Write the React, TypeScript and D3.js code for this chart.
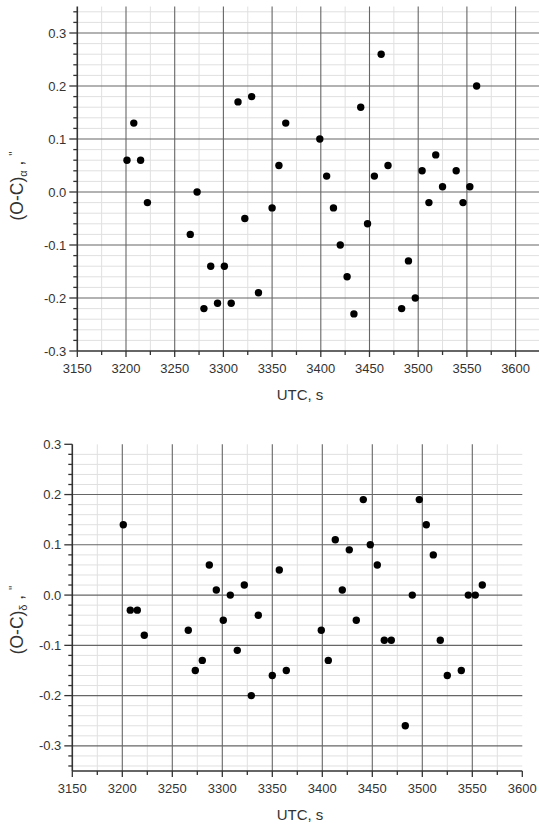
import React from 'react';
import * as d3 from 'd3';

// Observation epochs (UTC, seconds) shared by both residual series
const utcSeconds = [
  3201, 3208, 3215, 3222, 3266, 3273, 3280, 3287, 3294, 3301,
  3308, 3315, 3322, 3329, 3336, 3350, 3357, 3364, 3399, 3406,
  3413, 3420, 3427, 3434, 3441, 3448, 3455, 3462, 3469, 3483,
  3490, 3497, 3504, 3511, 3518, 3525, 3539, 3546, 3553, 3560,
];

// Residuals in right ascension, arcsec
const ocAlpha = [
  0.06, 0.13, 0.06, -0.02, -0.08, 0.0, -0.22, -0.14, -0.21, -0.14,
  -0.21, 0.17, -0.05, 0.18, -0.19, -0.03, 0.05, 0.13, 0.1, 0.03,
  -0.03, -0.1, -0.16, -0.23, 0.16, -0.06, 0.03, 0.26, 0.05, -0.22,
  -0.13, -0.2, 0.04, -0.02, 0.07, 0.01, 0.04, -0.02, 0.01, 0.2,
];

// Residuals in declination, arcsec
const ocDelta = [
  0.14, -0.03, -0.03, -0.08, -0.07, -0.15, -0.13, 0.06, 0.01, -0.05,
  0.0, -0.11, 0.02, -0.2, -0.04, -0.16, 0.05, -0.15, -0.07, -0.13,
  0.11, 0.01, 0.09, -0.05, 0.19, 0.1, 0.06, -0.09, -0.09, -0.26,
  0.0, 0.19, 0.14, 0.08, -0.09, -0.16, -0.15, 0.0, 0.0, 0.02,
];

const xMajorTicks = [3150, 3200, 3250, 3300, 3350, 3400, 3450, 3500, 3550, 3600];
const yMajorTicks = [-0.3, -0.2, -0.1, 0.0, 0.1, 0.2, 0.3];

const FONT = '"Liberation Sans", Arial, sans-serif';
const fmtY = d3
  .formatLocale({ decimal: '.', thousands: ',', grouping: [3], currency: ['', ''], minus: '-' })
  .format('.1f');

type PanelProps = {
  values: number[];
  xDomain: [number, number];
  xRange: [number, number];
  yDomain: [number, number];
  yRange: [number, number];
  sub: string;
  xTitleY: number;
  yTitleCenter: number;
};

function Panel({ values, xDomain, xRange, yDomain, yRange, sub, xTitleY, yTitleCenter }: PanelProps) {
  const x = d3.scaleLinear().domain(xDomain).range(xRange);
  const y = d3.scaleLinear().domain(yDomain).range(yRange);
  const [x0, x1] = xRange;
  const [yBottom, yTop] = yRange;

  const eps = 1e-9;
  const xMinor = d3
    .range(Math.ceil(xDomain[0] / 25), Math.floor(xDomain[1] / 25) + 1)
    .map((k) => k * 25)
    .filter((v) => v % 50 !== 0);
  const yMinor = d3
    .range(Math.ceil(yDomain[0] / 0.02 - eps), Math.floor(yDomain[1] / 0.02 + eps) + 1)
    .filter((k) => k % 5 !== 0)
    .map((k) => k * 0.02);

  const xMajInner = xMajorTicks.filter((v) => v > xDomain[0] + eps && v < xDomain[1] - eps);
  const yMajInner = yMajorTicks.filter((v) => v > yDomain[0] + eps && v < yDomain[1] - eps);

  return (
    <g>
      {/* light minor grid */}
      {xMinor.map((v) => (
        <line key={'gxm' + v} x1={x(v)} x2={x(v)} y1={yTop} y2={yBottom} stroke="#e0e0e0" strokeWidth={1} />
      ))}
      {yMinor.map((v) => (
        <line key={'gym' + v} x1={x0} x2={x1} y1={y(v)} y2={y(v)} stroke="#e0e0e0" strokeWidth={1} />
      ))}
      {/* major grid */}
      {xMajInner.map((v) => (
        <line key={'gx' + v} x1={x(v)} x2={x(v)} y1={yTop} y2={yBottom} stroke="#666" strokeWidth={1.1} />
      ))}
      {yMajInner.map((v) => (
        <line key={'gy' + v} x1={x0} x2={x1} y1={y(v)} y2={y(v)} stroke="#666" strokeWidth={1.1} />
      ))}

      {/* axes */}
      <line x1={x0} x2={x0} y1={yTop} y2={yBottom} stroke="#333" strokeWidth={1.6} />
      <line x1={x0} x2={x1} y1={yBottom} y2={yBottom} stroke="#333" strokeWidth={1.6} />

      {xMinor.map((v) => (
        <line key={'txm' + v} x1={x(v)} x2={x(v)} y1={yBottom} y2={yBottom + 4} stroke="#333" strokeWidth={1.3} />
      ))}
      {xMajorTicks.map((v) => (
        <g key={'tx' + v}>
          <line x1={x(v)} x2={x(v)} y1={yBottom} y2={yBottom + 6} stroke="#333" strokeWidth={1.3} />
          <text x={x(v)} y={yBottom + 22} textAnchor="middle" fontSize={13} fill="#333" fontFamily={FONT}>
            {v}
          </text>
        </g>
      ))}
      {yMinor.map((v) => (
        <line key={'tym' + v} x1={x0 - 4} x2={x0} y1={y(v)} y2={y(v)} stroke="#333" strokeWidth={1.3} />
      ))}
      {yMajorTicks.map((v) => (
        <g key={'ty' + v}>
          <line x1={x0 - 8} x2={x0} y1={y(v)} y2={y(v)} stroke="#333" strokeWidth={1.3} />
          <text x={x0 - 11} y={y(v) + 4.5} textAnchor="end" fontSize={13} fill="#333" fontFamily={FONT}>
            {fmtY(v)}
          </text>
        </g>
      ))}

      {/* residual points */}
      {values.map((v, i) => (
        <circle key={'p' + i} cx={x(utcSeconds[i])} cy={y(v)} r={3.7} fill="#000" />
      ))}

      {/* axis titles */}
      <text x={300} y={xTitleY} textAnchor="middle" fontSize={15} fill="#333" fontFamily={FONT}>
        UTC, s
      </text>
      <text
        transform={`translate(23,${yTitleCenter}) rotate(-90)`}
        textAnchor="middle"
        fontSize={17.5}
        fill="#333"
        fontFamily={FONT}
      >
        (O-C)
        <tspan fontSize={11} dy={4}>{sub}</tspan>
        <tspan dy={-4}>{' , '}</tspan>
        <tspan fontSize={12} dy={-5}>"</tspan>
      </text>
    </g>
  );
}

export default function App() {
  return (
    <svg
      width={539}
      height={825}
      style={{ position: 'absolute', left: 0, top: 0, background: '#fff' }}
    >
      <rect width={539} height={825} fill="#fff" />
      <Panel
        values={ocAlpha}
        xDomain={[3150, 3635]}
        xRange={[77.3, 77.3 + 485 * 0.974]}
        yDomain={[-0.3, 0.35]}
        yRange={[351, 6.5]}
        sub="α"
        xTitleY={400}
        yTitleCenter={186}
      />
      <Panel
        values={ocDelta}
        xDomain={[3150, 3600]}
        xRange={[72.3, 522.3]}
        yDomain={[-0.35, 0.3]}
        yRange={[771, 444.3]}
        sub="δ"
        xTitleY={820}
        yTitleCenter={620}
      />
    </svg>
  );
}
